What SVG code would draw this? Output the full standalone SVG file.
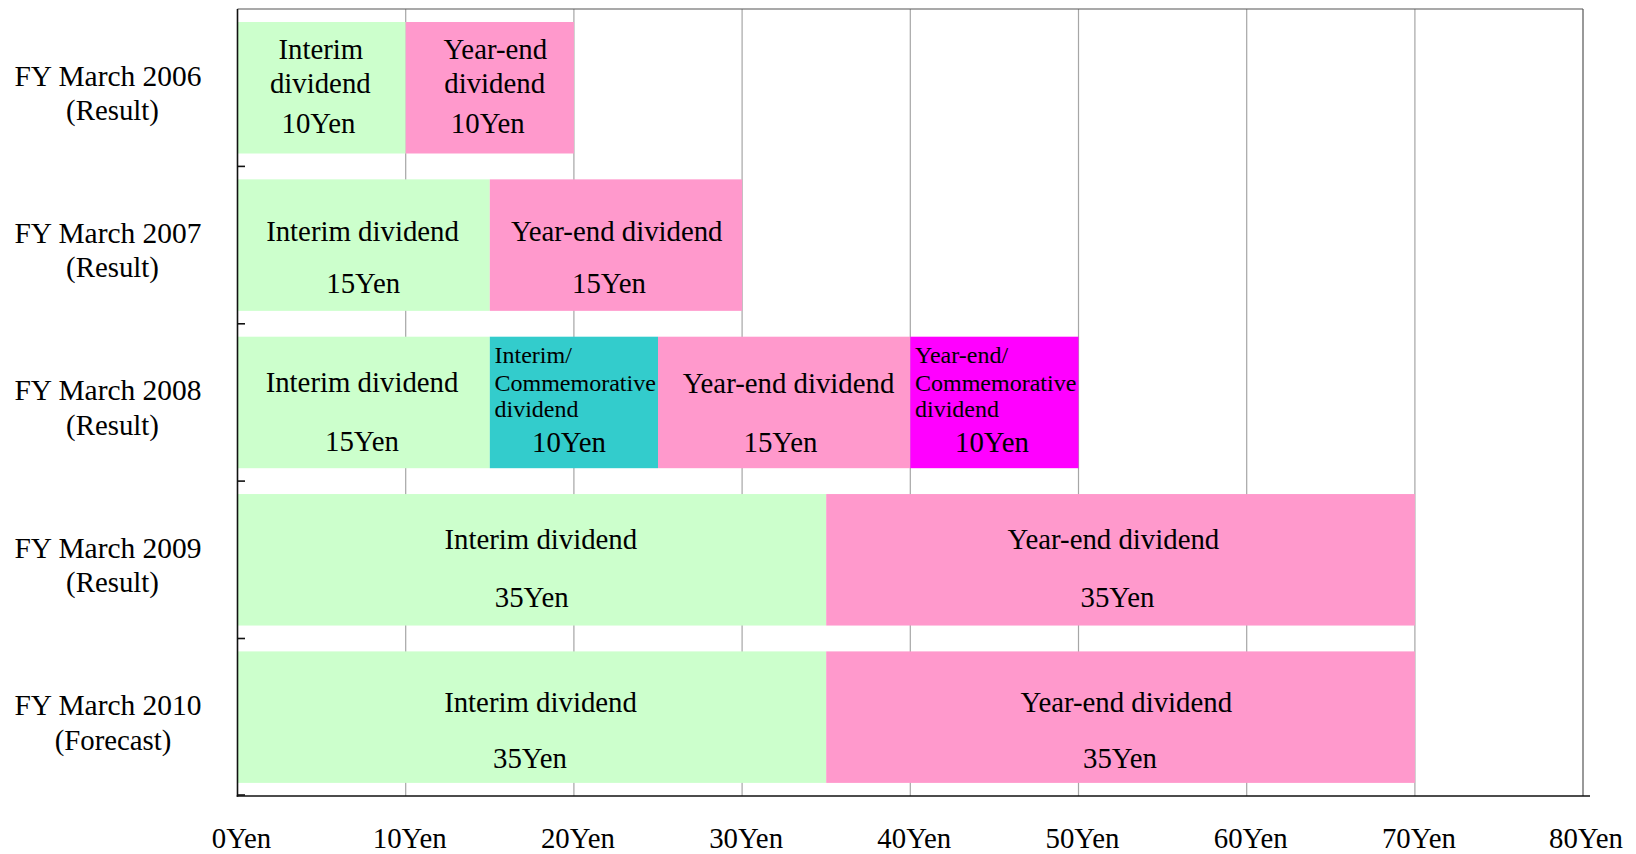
<svg xmlns="http://www.w3.org/2000/svg" width="1636" height="854" viewBox="0 0 1636 854">
  <style>
    text { font-family: "Liberation Serif", "Times New Roman", serif; fill: #000; }
    .t { font-size: 28.8px; text-anchor: middle; }
    .s { font-size: 24px; }
    .lbl { font-size: 28.8px; text-anchor: middle; }
    .grid { stroke: #a6a6a6; stroke-width: 1.2; }
    .frame { stroke: #555; stroke-width: 1.2; fill: none; }
    .axis { stroke: #111; stroke-width: 1.6; }
    .interim { fill: #ccffcc; }
    .yearend { fill: #ff99cc; }
    .comm-i { fill: #33cccc; }
    .comm-y { fill: #ff00ff; }
  </style>

  <rect width="1636" height="854" fill="#fff"/>

  <!-- grid and frame -->
  <g id="grid">
    <line class="grid" x1="405.7" y1="9" x2="405.7" y2="796"/>
    <line class="grid" x1="573.9" y1="9" x2="573.9" y2="796"/>
    <line class="grid" x1="742.1" y1="9" x2="742.1" y2="796"/>
    <line class="grid" x1="910.3" y1="9" x2="910.3" y2="796"/>
    <line class="grid" x1="1078.5" y1="9" x2="1078.5" y2="796"/>
    <line class="grid" x1="1246.7" y1="9" x2="1246.7" y2="796"/>
    <line class="grid" x1="1414.9" y1="9" x2="1414.9" y2="796"/>
    <line class="frame" x1="237.5" y1="9" x2="1583" y2="9"/>
    <line class="frame" x1="1583" y1="9" x2="1583" y2="796"/>
  </g>

  <!-- FY March 2006 -->
  <g id="fy2006">
    <text class="lbl" x="108" y="85.5" textLength="187" lengthAdjust="spacingAndGlyphs">FY March 2006</text>
    <text class="lbl" x="112.5" y="120">(Result)</text>
  </g>
  <g id="fy2006-interim">
    <rect class="interim" x="237.5" y="22" width="168.2" height="131.5"/>
    <text class="t" x="320.8" y="59">Interim</text>
    <text class="t" x="320.3" y="93.3">dividend</text>
    <text class="t" x="318.5" y="132.7">10Yen</text>
  </g>
  <g id="fy2006-yearend">
    <rect class="yearend" x="405.7" y="22" width="168.2" height="131.5"/>
    <text class="t" x="495.3" y="59">Year-end</text>
    <text class="t" x="494.7" y="93.3">dividend</text>
    <text class="t" x="487.8" y="133.3">10Yen</text>
  </g>

  <!-- FY March 2007 -->
  <g id="fy2007">
    <text class="lbl" x="108" y="242.9" textLength="187" lengthAdjust="spacingAndGlyphs">FY March 2007</text>
    <text class="lbl" x="112.5" y="277.4">(Result)</text>
  </g>
  <g id="fy2007-interim">
    <rect class="interim" x="237.5" y="179.35" width="252.3" height="131.5"/>
    <text class="t" x="362.5" y="240.7">Interim dividend</text>
    <text class="t" x="363.2" y="293.3">15Yen</text>
  </g>
  <g id="fy2007-yearend">
    <rect class="yearend" x="489.8" y="179.35" width="252.3" height="131.5"/>
    <text class="t" x="616.7" y="240.7">Year-end dividend</text>
    <text class="t" x="609" y="293.3">15Yen</text>
  </g>

  <!-- FY March 2008 -->
  <g id="fy2008">
    <text class="lbl" x="108" y="400.2" textLength="187" lengthAdjust="spacingAndGlyphs">FY March 2008</text>
    <text class="lbl" x="112.5" y="434.8">(Result)</text>
  </g>
  <g id="fy2008-interim">
    <rect class="interim" x="237.5" y="336.7" width="252.3" height="131.5"/>
    <text class="t" x="362" y="392">Interim dividend</text>
    <text class="t" x="362" y="450.8">15Yen</text>
  </g>
  <g id="fy2008-interim-comm">
    <rect class="comm-i" x="489.8" y="336.7" width="168.2" height="131.5"/>
    <text class="s" x="494.5" y="363.3">Interim/</text>
    <text class="s" x="494.5" y="390.7">Commemorative</text>
    <text class="s" x="494.5" y="416.7">dividend</text>
    <text class="t" x="569" y="451.7">10Yen</text>
  </g>
  <g id="fy2008-yearend">
    <rect class="yearend" x="658" y="336.7" width="252.3" height="131.5"/>
    <text class="t" x="788.5" y="392.7">Year-end dividend</text>
    <text class="t" x="780.5" y="452.3">15Yen</text>
  </g>
  <g id="fy2008-yearend-comm">
    <rect class="comm-y" x="910.3" y="336.7" width="168.2" height="131.5"/>
    <text class="s" x="915" y="363.3">Year-end/</text>
    <text class="s" x="915" y="390.7">Commemorative</text>
    <text class="s" x="915" y="416.7">dividend</text>
    <text class="t" x="992" y="451.7">10Yen</text>
  </g>

  <!-- FY March 2009 -->
  <g id="fy2009">
    <text class="lbl" x="108" y="557.6" textLength="187" lengthAdjust="spacingAndGlyphs">FY March 2009</text>
    <text class="lbl" x="112.5" y="592.2">(Result)</text>
  </g>
  <g id="fy2009-interim">
    <rect class="interim" x="237.5" y="494.05" width="588.7" height="131.5"/>
    <text class="t" x="540.8" y="549">Interim dividend</text>
    <text class="t" x="531.7" y="606.7">35Yen</text>
  </g>
  <g id="fy2009-yearend">
    <rect class="yearend" x="826.2" y="494.05" width="588.7" height="131.5"/>
    <text class="t" x="1113.4" y="549">Year-end dividend</text>
    <text class="t" x="1117.5" y="606.7">35Yen</text>
  </g>

  <!-- FY March 2010 -->
  <g id="fy2010">
    <text class="lbl" x="108" y="714.9" textLength="187" lengthAdjust="spacingAndGlyphs">FY March 2010</text>
    <text class="lbl" x="113" y="749.5">(Forecast)</text>
  </g>
  <g id="fy2010-interim">
    <rect class="interim" x="237.5" y="651.4" width="588.7" height="131.5"/>
    <text class="t" x="540.5" y="711.5">Interim dividend</text>
    <text class="t" x="530" y="768.2">35Yen</text>
  </g>
  <g id="fy2010-yearend">
    <rect class="yearend" x="826.2" y="651.4" width="588.7" height="131.5"/>
    <text class="t" x="1126.3" y="711.7">Year-end dividend</text>
    <text class="t" x="1120" y="768.3">35Yen</text>
  </g>

  <!-- axes, ticks and scale labels -->
  <g id="axes">
    <line class="axis" x1="237.5" y1="9" x2="237.5" y2="796.8"/>
    <line class="axis" x1="236.7" y1="796" x2="1590" y2="796"/>
    <line class="axis" x1="237.5" y1="166.4" x2="245" y2="166.4"/>
    <line class="axis" x1="237.5" y1="323.8" x2="245" y2="323.8"/>
    <line class="axis" x1="237.5" y1="481.1" x2="245" y2="481.1"/>
    <line class="axis" x1="237.5" y1="638.5" x2="245" y2="638.5"/>
    <line class="axis" x1="237.5" y1="795" x2="245" y2="795"/>
  </g>
  <g id="scale">
    <text class="lbl" x="241.5" y="847.5">0Yen</text>
    <text class="lbl" x="409.7" y="847.5">10Yen</text>
    <text class="lbl" x="577.9" y="847.5">20Yen</text>
    <text class="lbl" x="746.1" y="847.5">30Yen</text>
    <text class="lbl" x="914.3" y="847.5">40Yen</text>
    <text class="lbl" x="1082.5" y="847.5">50Yen</text>
    <text class="lbl" x="1250.7" y="847.5">60Yen</text>
    <text class="lbl" x="1418.9" y="847.5">70Yen</text>
    <text class="lbl" x="1586" y="847.5">80Yen</text>
  </g>
</svg>
